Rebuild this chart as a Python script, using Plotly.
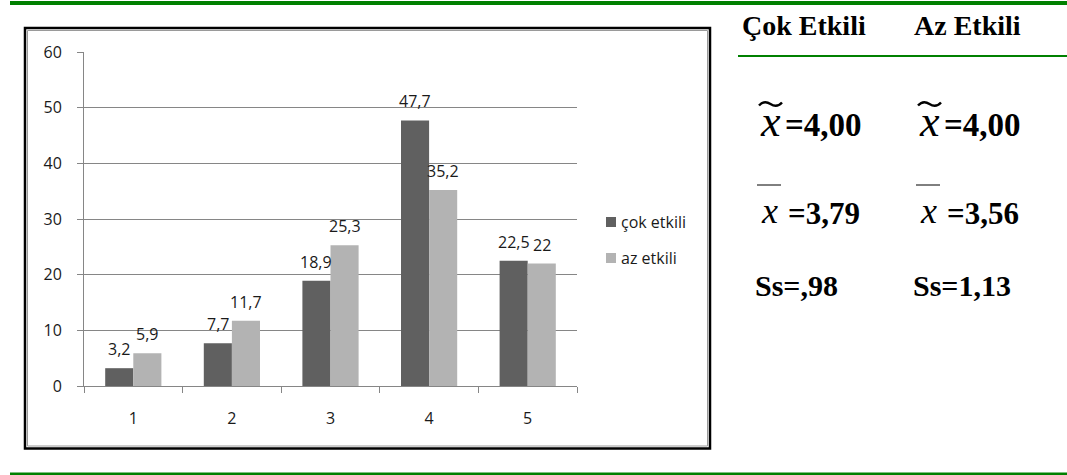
import plotly.graph_objects as go

# --- data ---
categories = ["1", "2", "3", "4", "5"]
cok_etkili = [3.2, 7.7, 18.9, 47.7, 22.5]
az_etkili = [5.9, 11.7, 25.3, 35.2, 22]
series_names = ["çok etkili", "az etkili"]

stat_headers = ["Çok Etkili", "Az Etkili"]
median_labels = ["=4,00", "=4,00"]
mean_labels = ["=3,79", "=3,56"]
sd_labels = ["Ss=,98", "Ss=1,13"]

# --- styling ---
W, H = 1067, 475
PLOT_L, PLOT_R, PLOT_T, PLOT_B = 84, 577, 52, 386
DARK = "#606060"
LIGHT = "#b3b3b3"
AXIS_GRAY = "#868686"
GREEN = "#008000"
TXT = "#1a1a1a"
CHART_FONT = "Open Sans"
SERIF = "Liberation Serif"
BARGAP = 0.43


def px(x):
    """Horizontal pixel -> paper coordinate."""
    return (x - PLOT_L) / (PLOT_R - PLOT_L)


def py(y):
    """Vertical pixel -> paper coordinate."""
    return (PLOT_B - y) / (PLOT_B - PLOT_T)


def fmt(v):
    return f"{v:g}".replace(".", ",")


fig = go.Figure()
fig.add_trace(go.Bar(x=categories, y=cok_etkili, name=series_names[0],
                     marker=dict(color=DARK, line=dict(width=0))))
fig.add_trace(go.Bar(x=categories, y=az_etkili, name=series_names[1],
                     marker=dict(color=LIGHT, line=dict(width=0))))

# bar value labels (x given as category index)
cat_px = (PLOT_R - PLOT_L) / len(categories)
bar_px = cat_px * (1 - BARGAP) / 2
annotations = []
for vals, sign in ((cok_etkili, -1), (az_etkili, 1)):
    for idx, v in enumerate(vals):
        annotations.append(dict(
            x=idx, y=v, xref="x", yref="y", text=fmt(v), showarrow=False,
            xanchor="center", yanchor="bottom", xshift=sign * bar_px / 2,
            yshift=6, font=dict(family=CHART_FONT, size=16, color=TXT)))

shapes = []
# page rules
shapes.append(dict(type="rect", xref="paper", yref="paper",
                   x0=px(10), x1=px(1067), y0=py(1), y1=py(5),
                   fillcolor=GREEN, line=dict(width=0), layer="above"))
shapes.append(dict(type="rect", xref="paper", yref="paper",
                   x0=px(10), x1=px(1067), y0=py(472.5), y1=py(475),
                   fillcolor=GREEN, line=dict(width=0), layer="above"))
shapes.append(dict(type="line", xref="paper", yref="paper",
                   x0=px(738), x1=px(1067), y0=py(56), y1=py(56),
                   line=dict(color=GREEN, width=2)))
# chart frame (black outer, grey inner)
shapes.append(dict(type="rect", xref="paper", yref="paper",
                   x0=px(25), x1=px(710), y0=py(28), y1=py(448.5),
                   line=dict(color="black", width=2.5), fillcolor="rgba(0,0,0,0)"))
shapes.append(dict(type="rect", xref="paper", yref="paper",
                   x0=px(27.5), x1=px(707.5), y0=py(30.5), y1=py(446),
                   line=dict(color="#9a9a9a", width=1), fillcolor="rgba(0,0,0,0)"))

# legend
legend_items = [(series_names[0], DARK, 222), (series_names[1], LIGHT, 258)]
for name, col, yc in legend_items:
    shapes.append(dict(type="rect", xref="paper", yref="paper",
                       x0=px(606), x1=px(616), y0=py(yc - 5), y1=py(yc + 5),
                       fillcolor=col, line=dict(width=0)))
    annotations.append(dict(x=px(619), y=py(yc), xref="paper", yref="paper",
                            text=name, showarrow=False, xanchor="left",
                            yanchor="middle",
                            font=dict(family=CHART_FONT, size=16, color=TXT)))


def tilde_path(x0, x1, yc, amp):
    """Wavy tilde accent as an SVG path in paper coordinates."""
    w = x1 - x0
    pts = [
        (x0, yc + amp * 0.6),
        (x0 + w * 0.2, yc - amp * 1.4),
        (x0 + w * 0.4, yc - amp * 0.6),
        (x0 + w * 0.5, yc),
        (x0 + w * 0.6, yc + amp * 0.6),
        (x0 + w * 0.8, yc + amp * 1.4),
        (x1, yc - amp * 0.6),
    ]
    p = [(px(a), py(b)) for a, b in pts]
    return ("M {:.5f},{:.5f} C {:.5f},{:.5f} {:.5f},{:.5f} {:.5f},{:.5f} "
            "C {:.5f},{:.5f} {:.5f},{:.5f} {:.5f},{:.5f}").format(
        *[c for pt in p for c in pt])


# statistics panel
col_x = [758, 917]
head_x = [740, 912]
for i in range(2):
    annotations.append(dict(x=px(head_x[i]), y=py(26), xref="paper", yref="paper",
                            text=f"<b>{stat_headers[i]}</b>", showarrow=False,
                            xanchor="left", yanchor="middle",
                            font=dict(family=SERIF, size=28, color="black")))
    # median: x with tilde
    annotations.append(dict(x=px(col_x[i] + 12), y=py(121), xref="paper", yref="paper",
                            text="<i>x</i>", showarrow=False, xanchor="center",
                            yanchor="middle",
                            font=dict(family=SERIF, size=44, color="black")))
    shapes.append(dict(type="path", xref="paper", yref="paper",
                       path=tilde_path(col_x[i] + 1, col_x[i] + 24, 104, 2.6),
                       line=dict(color="black", width=2.4),
                       fillcolor="rgba(0,0,0,0)"))
    annotations.append(dict(x=px(col_x[i] + 25), y=py(125), xref="paper",
                            yref="paper", text=f"<b>{median_labels[i]}</b>",
                            showarrow=False, xanchor="left", yanchor="middle",
                            font=dict(family=SERIF, size=33, color="black")))
    # mean: x with bar
    annotations.append(dict(x=px(col_x[i] + 11), y=py(211), xref="paper", yref="paper",
                            text="<i>x</i>", showarrow=False, xanchor="center",
                            yanchor="middle",
                            font=dict(family=SERIF, size=36, color="black")))
    shapes.append(dict(type="line", xref="paper", yref="paper",
                       x0=px(col_x[i] - 1), x1=px(col_x[i] + 23),
                       y0=py(185), y1=py(185), line=dict(color="black", width=1)))
    annotations.append(dict(x=px(col_x[i] + 28), y=py(213), xref="paper",
                            yref="paper", text=f"<b>{mean_labels[i]}</b>",
                            showarrow=False, xanchor="left", yanchor="middle",
                            font=dict(family=SERIF, size=31, color="black")))
    # standard deviation
    annotations.append(dict(x=px(col_x[i] - 5 - 1 * i), y=py(285), xref="paper",
                            yref="paper", text=f"<b>{sd_labels[i]}</b>",
                            showarrow=False, xanchor="left", yanchor="middle",
                            font=dict(family=SERIF, size=30, color="black")))

fig.update_layout(
    width=W, height=H,
    margin=dict(l=PLOT_L, r=W - PLOT_R, t=PLOT_T, b=H - PLOT_B, pad=0),
    paper_bgcolor="white", plot_bgcolor="white",
    barmode="group", bargap=BARGAP, bargroupgap=0,
    showlegend=False,
    font=dict(family=CHART_FONT, size=16, color=TXT),
    xaxis=dict(type="category", range=[-0.5, 4.5], showline=True,
               linecolor=AXIS_GRAY, linewidth=1, ticks="outside",
               tickson="boundaries", ticklen=6, tickcolor=AXIS_GRAY,
               showgrid=False, ticklabelstandoff=18,
               tickfont=dict(family=CHART_FONT, size=16, color=TXT)),
    yaxis=dict(range=[0, 60], dtick=10, showline=True, linecolor=AXIS_GRAY,
               linewidth=1, ticks="outside", ticklen=6, tickcolor=AXIS_GRAY,
               showgrid=True, gridcolor=AXIS_GRAY, gridwidth=1, zeroline=False,
               ticklabelstandoff=12,
               tickfont=dict(family=CHART_FONT, size=16, color=TXT)),
    shapes=shapes, annotations=annotations,
)

fig.write_html("out.html")
